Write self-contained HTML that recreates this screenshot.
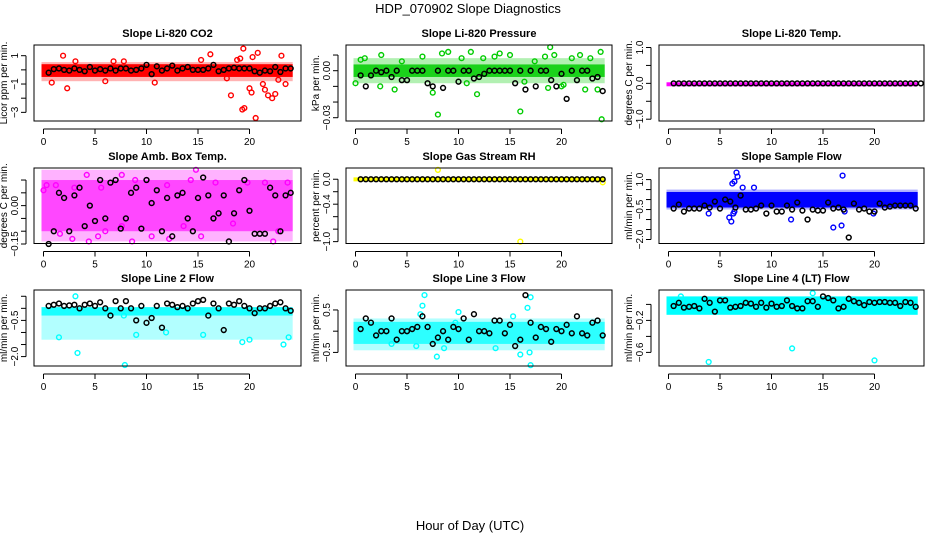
<!DOCTYPE html>
<html><head><meta charset="utf-8"><style>
body{margin:0;background:#fff;}
svg{display:block;font-family:"Liberation Sans",sans-serif;}
</style></head><body>
<svg id="chart" width="936" height="540" viewBox="0 0 936 540">
<text x="468" y="13" text-anchor="middle" font-size="13">HDP_070902  Slope Diagnostics</text>
<text x="470" y="530" text-anchor="middle" font-size="13">Hour of Day (UTC)</text>
<g id="panels"></g>
</svg>
<script>
// ---- data ----
const hourTicks = [0, 5, 10, 15, 20];
const titles = ["Slope Li-820 CO2","Slope Li-820 Pressure","Slope Li-820 Temp.","Slope Amb. Box Temp.","Slope Gas Stream RH","Slope Sample Flow","Slope Line 2 Flow","Slope Line 3 Flow","Slope Line 4 (LT) Flow"];
const yTitles = ["Licor ppm per min.","kPa per min.","degrees C per min.","degrees C per min.","percent per min.","ml/min per min.","ml/min per min.","ml/min per min.","ml/min per min."];
const seriesColors = ["#ff0000","#00cc00","#ff00ff","#ff00ff","#ffff00","#0000ff","#00ffff","#00ffff","#00ffff"];
const yDomains = [[-3.61,1.755],[-0.0321,0.0164],[-1.05,1.07],[-0.148,0.147],[-1.03,0.18],[-2.2,1.58],[-2.39,0.76],[-0.82,0.97],[-0.77,0.18]];
const yTickVals = [[1,0,-1,-2,-3],[0.01,0,-0.01,-0.02,-0.03],[1,0.5,0,-0.5,-1],[0.1,0.05,0,-0.05,-0.1,-0.15],[0,-0.2,-0.4,-0.6,-0.8,-1],[1,0.5,0,-0.5,-1,-1.5,-2],[0.5,0,-0.5,-1,-1.5,-2],[0.5,0,-0.5],[0,-0.2,-0.4,-0.6]];
const yTickLabels = [["1","","-1","","-3"],["","0.00","","","-0.03"],["1.0","","0.0","","-1.0"],["","","0.00","","","-0.15"],["0.0","","-0.4","","","-1.0"],["1.0","","","-0.5","","","-2.0"],["","","-0.5","","","-2.0"],["0.5","","-0.5"],["","-0.2","","-0.6"]];
// dense colored band [low, high] per panel
const bandLow  = [-0.5,-0.004,-0.03,-0.1,-0.03,-0.4,-0.3,-0.3,-0.13];
const bandHigh = [0.4,0.004,0.03,0.1,0.03,0.38,0.05,0.22,0.1];
// sparser colored band [low, high] (null = none)
const sparseLow  = [-0.8,-0.008,null,-0.14,null,-0.5,-1.3,-0.45,null];
const sparseHigh = [0.55,0.008,null,0.14,null,0.5,-0.3,0.3,null];
// colored outliers [hour, value]
const outliers = [
 [[1.9,1.0],[2.3,-1.3],[0.8,-0.9],[3.1,0.6],[6.8,0.6],[7.8,0.6],[10.8,-0.9],[15.3,0.7],[16.2,1.1],[18.2,-1.8],[19.4,1.5],[19.3,-2.8],[19.5,-2.7],[20.6,-3.4],[20.0,-1.3],[20.2,-1.6],[20.3,0.9],[20.8,1.2],[21.5,-1.4],[21.8,-1.8],[22.2,-2.0],[22.5,-1.7],[23.1,1.0],[23.5,-1.0],[19.1,0.8],[18.8,0.7],[21.3,-1.0],[22.8,-0.7],[6.0,-0.8],[17.8,-0.6]],
 [[0.5,0.007],[0.9,0.008],[2.5,0.01],[2.4,-0.01],[3.8,-0.012],[4.5,0.006],[6.5,0.009],[7.5,-0.014],[8.0,-0.028],[8.4,0.011],[9.0,0.012],[10.3,0.008],[10.8,-0.008],[11.2,0.012],[11.8,-0.015],[12.4,0.008],[13.5,0.009],[14.0,0.011],[15.0,0.01],[16.0,-0.026],[16.4,-0.007],[17.4,0.006],[18.4,0.009],[18.9,0.015],[18.7,-0.011],[19.3,0.01],[20.0,-0.01],[20.2,-0.009],[21.0,0.008],[21.8,0.01],[22.3,-0.012],[22.8,0.008],[23.5,-0.012],[23.9,-0.031],[23.8,0.012],[0.0,-0.008]],
 [],
 [[0,0.06],[0.3,0.08],[1.2,0.08],[1.6,-0.11],[2.8,-0.13],[3.0,0.07],[4.2,0.12],[4.4,-0.14],[5.3,-0.12],[6.0,-0.1],[7.6,0.12],[7.6,-0.08],[8.6,-0.14],[8.9,0.1],[10.5,-0.12],[12.2,-0.13],[13.6,-0.08],[14.3,0.1],[14.8,0.14],[15.3,-0.12],[16.7,0.09],[18.4,-0.07],[19.8,0.09],[21.5,0.09],[22.3,-0.14],[22.8,-0.1],[23.7,0.09],[10.0,0.1],[12.0,0.08],[5.6,0.07]],
 [[8.0,0.15],[16.0,-1.0],[24.0,-0.05]],
 [[5.9,-0.9],[6.1,-1.1],[6.3,-0.7],[6.4,-0.6],[6.2,0.8],[6.4,0.9],[6.6,1.35],[6.7,1.15],[6.8,-0.1],[3.9,-0.7],[8.3,0.6],[11.9,-1.0],[16.0,-1.4],[16.9,1.2],[16.8,-1.3],[17.1,-0.6],[19.9,-0.7],[7.2,0.6]],
 [[3.1,0.5],[3.3,-1.85],[7.9,-2.35],[7.8,-0.3],[1.5,-1.2],[11.9,-1.0],[19.3,-1.4],[20.0,-1.3],[23.3,-1.5],[23.8,-1.2],[15.5,-1.1],[9.0,-1.1]],
 [[6.3,0.4],[6.5,0.6],[6.7,0.85],[5.9,-0.35],[7.9,-0.6],[8.6,-0.4],[9.7,0.2],[10.0,0.45],[3.5,-0.3],[16.7,0.55],[17.0,0.8],[17.0,-0.8],[16.0,-0.55],[16.9,-0.5],[13.6,-0.4],[15.3,0.35]],
 [[3.9,-0.72],[12.0,-0.55],[20.0,-0.7],[1.2,0.1],[14.0,0.14],[7.0,-0.05]]
];
// black reference points, at hours 0.5,1.0,...,24.0
const blackVals = [
 [-0.2,0.05,0.1,0.0,-0.05,0.1,0.0,-0.1,0.2,-0.05,0.05,-0.05,0.1,-0.05,0.1,0.1,-0.05,0.0,0.1,0.35,-0.3,0.25,-0.05,0.1,0.3,-0.05,0.1,0.2,0.0,0.0,0.0,0.1,0.35,-0.1,0.0,0.1,0.15,0.1,0.1,0.1,-0.1,-0.2,-0.05,-0.1,0.2,-0.15,0.1,0.1],
 [-0.003,-0.01,-0.003,0,-0.001,0,-0.004,0,-0.006,-0.006,0,0,0,-0.008,-0.01,0,-0.011,0,0,-0.007,0,0,-0.005,-0.004,-0.002,0,0,0,0,0,-0.008,0,-0.012,0,-0.01,0,0,-0.006,-0.01,-0.002,-0.018,0,-0.006,0,0,-0.005,-0.004,-0.013],
 [0,0,0,0,0,0,0,0,0,0,0,0,0,0,0,0,0,0,0,0,0,0,0,0,0,0,0,0,0,0,0,0,0,0,0,0,0,0,0,0,0,0,0,0,0,0,0,0,0],
 [-0.15,-0.1,0.05,0.03,-0.1,0.04,0.07,-0.08,0.0,-0.06,0.1,-0.05,0.09,0.1,-0.09,-0.05,0.05,0.07,-0.09,0.1,0.01,0.06,-0.1,0.03,-0.12,0.04,0.05,-0.05,-0.1,0.03,0.11,0.04,-0.05,-0.03,0.04,-0.14,-0.03,0.06,0.1,-0.02,-0.11,-0.11,-0.11,0.07,0.04,-0.1,0.04,0.05],
 [0,0,0,0,0,0,0,0,0,0,0,0,0,0,0,0,0,0,0,0,0,0,0,0,0,0,0,0,0,0,0,0,0,0,0,0,0,0,0,0,0,0,0,0,0,0,0,0],
 [-0.45,-0.25,-0.6,-0.45,-0.45,-0.45,-0.3,-0.4,-0.1,-0.45,0.0,-0.1,-0.4,0.2,-0.5,-0.5,-0.45,-0.3,-0.7,-0.3,-0.6,-0.6,-0.3,-0.5,-0.15,-0.55,-1.0,-0.5,-0.55,-0.55,-0.15,-0.45,-0.4,-0.5,-1.9,-0.2,-0.5,-0.45,-0.6,-0.6,-0.2,-0.4,-0.35,-0.3,-0.3,-0.3,-0.3,-0.45],
 [0.1,0.15,0.2,0.1,0.12,0.15,0.0,0.15,0.2,0.1,0.25,0.0,-0.3,0.3,0.0,0.3,0.0,-0.5,0.1,-0.6,-0.4,0.1,-0.8,0.2,0.15,0.05,0.1,0.0,0.2,0.3,0.35,-0.3,0.2,0.0,-0.9,0.2,0.15,0.3,0.1,0.0,-0.2,0.0,0.0,0.1,0.2,0.25,0.0,-0.1],
 [0.05,0.3,0.2,-0.1,0.0,0.0,0.3,-0.2,0.0,0.0,0.05,0.1,0.35,0.1,-0.3,-0.15,0.0,-0.2,0.1,0.05,0.3,-0.2,0.4,0.0,0.0,-0.05,0.25,0.25,-0.05,0.15,-0.35,-0.2,0.85,0.2,-0.15,0.1,0.05,-0.25,0.05,0.0,0.15,-0.05,0.35,-0.05,-0.1,0.2,0.25,-0.1],
 [-0.02,0.02,-0.04,-0.03,-0.02,-0.05,0.07,0.02,-0.09,0.05,0.05,-0.04,-0.03,-0.02,0.02,0.01,-0.03,0.02,-0.04,0.01,-0.03,-0.02,0.05,-0.02,-0.05,-0.05,0.04,0.04,-0.03,0.1,0.08,0.05,-0.05,-0.03,0.07,0.04,0.02,-0.01,0.03,0.02,0.03,0.03,0.02,0.02,-0.02,0.03,0.02,-0.03]
];
// ---- layout ----
const colLeft = [34, 346, 659], colRight = [301, 612, 924];
const rowTop = [45, 168, 290], rowBottom = [121, 243.5, 366];
const bandOpacity = [1,0.85,1,0.6,1,1,0.9,0.75,1];
const NS = "http://www.w3.org/2000/svg";
const root = document.getElementById("panels");
function mk(tag, attrs, parent){const e=document.createElementNS(NS,tag);for(const k in attrs)e.setAttribute(k,attrs[k]);parent.appendChild(e);return e;}
for(let p=0;p<9;p++){
  const c=p%3, r=Math.floor(p/3);
  const L=colLeft[c], R=colRight[c], T=rowTop[r], B=rowBottom[r];
  const x0=L+9.5, x20=L+215.5;
  const xs=h=>x0+(x20-x0)*h/20;
  const [d0,d1]=yDomains[p];
  const ys=v=>B-(v-d0)/(d1-d0)*(B-T);
  const g=mk("g",{},root);
  
  
  const t=mk("text",{x:(L+R)/2,y:T-8,"text-anchor":"middle","font-size":"11","font-weight":"bold"},g);
  t.textContent=titles[p];
  
  
  const col=seriesColors[p];
  if(sparseLow[p]!==null){
    const sb=mk("rect",{x:xs(0)-2,y:ys(sparseHigh[p]),width:xs(24)-xs(0)+4,height:ys(sparseLow[p])-ys(sparseHigh[p]),fill:col,opacity:0.3},g);
    
    
  }
  const band=mk("rect",{x:xs(0)-2,y:ys(bandHigh[p]),width:xs(24)-xs(0)+4,height:Math.max(4,ys(bandLow[p])-ys(bandHigh[p])),fill:col,opacity:bandOpacity[p]},g);
  
  
  for(const [h,v] of outliers[p]){
    const ci=mk("circle",{cx:xs(h),cy:ys(v),r:2.4,fill:"none",stroke:col,"stroke-width":1.4},g);
    
    
  }
  blackVals[p].forEach((v,i)=>{
    const ci=mk("circle",{cx:xs(0.5+0.5*i),cy:ys(v),r:2.4,fill:"none",stroke:"#000","stroke-width":1.5},g);
    
    
  });
  const box=mk("rect",{x:L,y:T,width:R-L,height:B-T,fill:"none",stroke:"#000","stroke-width":1},g);
  
  
  mk("line",{x1:xs(0),x2:xs(20),y1:B+8,y2:B+8,stroke:"#000"},g);
  hourTicks.forEach(h=>{
    mk("line",{x1:xs(h),x2:xs(h),y1:B+8,y2:B+13,stroke:"#000"},g);
    const tl=mk("text",{x:xs(h),y:B+24,"text-anchor":"middle","font-size":"10"},g);
    tl.textContent=h;
    
    
  });
  const tv=yTickVals[p];
  mk("line",{x1:L-8,x2:L-8,y1:ys(tv[0]),y2:ys(tv[tv.length-1]),stroke:"#000"},g);
  tv.forEach((v,i)=>{
    mk("line",{x1:L-13,x2:L-8,y1:ys(v),y2:ys(v),stroke:"#000"},g);
    const s=yTickLabels[p][i];
    if(s){
      const tl=mk("text",{x:0,y:0,"text-anchor":"middle","font-size":"10",transform:`translate(${L-16},${ys(v)}) rotate(-90)`},g);
      tl.textContent=s.replace("-","\u2212");
      
      
    }
  });
  const yt=mk("text",{x:0,y:0,"text-anchor":"middle","font-size":"10",transform:`translate(${L-27},${(T+B)/2}) rotate(-90)`},g);
  yt.textContent=yTitles[p];
  
  
}
</script>
</body></html>
